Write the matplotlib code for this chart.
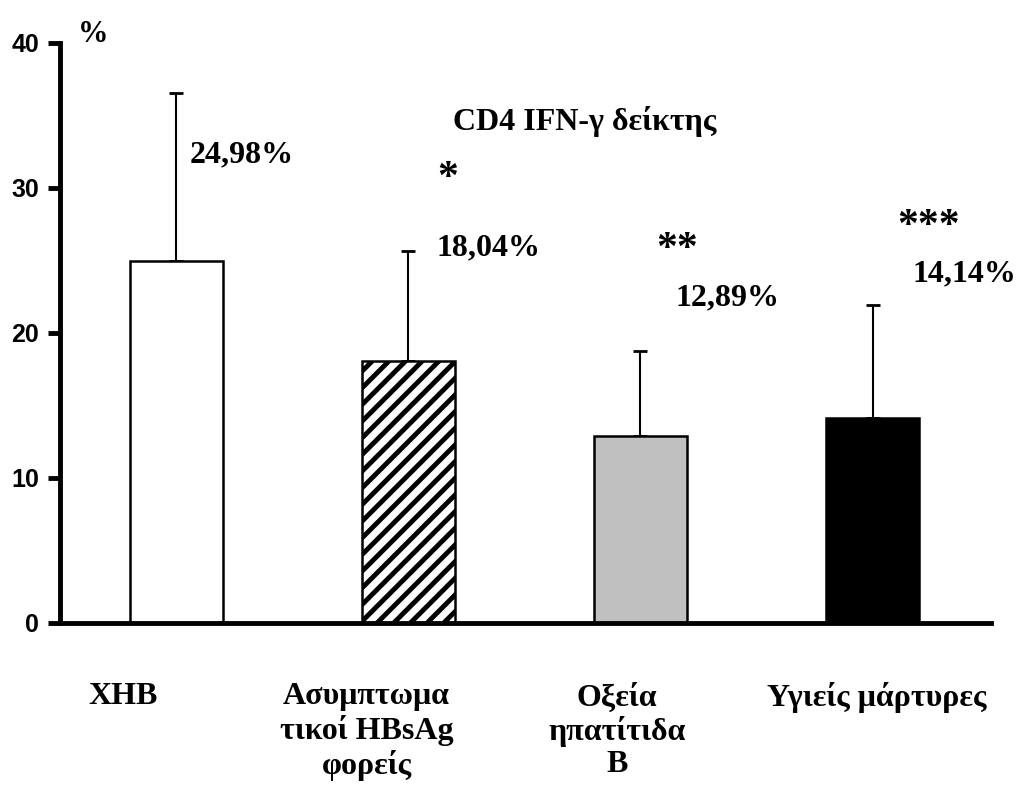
import matplotlib.pyplot as plt

groups = ['XHB', 'Ασυμπτωμα\nτικοί HBsAg\nφορείς', 'Οξεία\nηπατίτιδα\nΒ', 'Υγιείς μάρτυρες']
values = [24.98, 18.04, 12.89, 14.14]
errors = [11.6, 7.6, 5.9, 7.8]
value_labels = ['24,98%', '18,04%', '12,89%', '14,14%']
stars = ['', '*', '**', '***']
yticks = [0, 10, 20, 30, 40]

plt.rcParams['hatch.linewidth'] = 3.5

fig = plt.figure(figsize=(10.19, 7.87), dpi=100)
ax = fig.add_axes([0.0589, 0.2084, 0.9136, 0.737])

x = list(range(len(values)))
faces = ['white', 'white', '#c0c0c0', 'black']
hatches = [None, '//', None, None]
for i in x:
    ax.bar(i, values[i], width=0.4, color=faces[i], edgecolor='black',
           linewidth=1.8, hatch=hatches[i], zorder=2)
ax.errorbar(x, values, yerr=[[0] * 4, errors], fmt='none', ecolor='black',
            elinewidth=1.5, capsize=5, capthick=2, zorder=1)

ax.set_xlim(-0.5, 3.51)
ax.set_ylim(0, 40)
ax.set_yticks(yticks)
ax.set_yticklabels([str(t) for t in yticks], fontfamily='Liberation Sans',
                   fontweight='bold', fontsize=18)
ax.set_xticks([])
ax.tick_params(axis='y', length=9, width=3.5, direction='out', pad=6)
for s in ['top', 'right']:
    ax.spines[s].set_visible(False)
ax.spines['left'].set_linewidth(3.5)
ax.spines['bottom'].set_linewidth(3.5)

serif = dict(fontfamily='Liberation Serif', fontweight='bold', color='black')

# value labels and significance stars
lab_pos = [(0.06, 32.3), (1.12, 25.9), (2.15, 22.4), (3.17, 24.1)]
star_pos = [(0, 0), (1.17, 30.6), (2.16, 25.7), (3.24, 27.3)]
for i in x:
    ax.text(lab_pos[i][0], lab_pos[i][1], value_labels[i], fontsize=23,
            ha='left', va='center', **serif)
    if stars[i]:
        ax.text(star_pos[i][0], star_pos[i][1], stars[i], fontsize=30,
                ha='center', va='center', **serif)

ax.text(1.76, 34.6, 'CD4 IFN-γ δείκτης', fontsize=23, ha='center',
        va='center', **serif)
ax.text(0.036, 0.99, '%', transform=ax.transAxes, fontsize=22, ha='center',
        va='bottom', **serif)

# group labels under the axis
group_x = [-0.23, 0.82, 1.90, 3.02]
for i in x:
    ax.text(group_x[i], -4.1, groups[i], fontsize=23, ha='center', va='top',
            linespacing=1.15, **serif)

fig.savefig('out.png', dpi=100)
